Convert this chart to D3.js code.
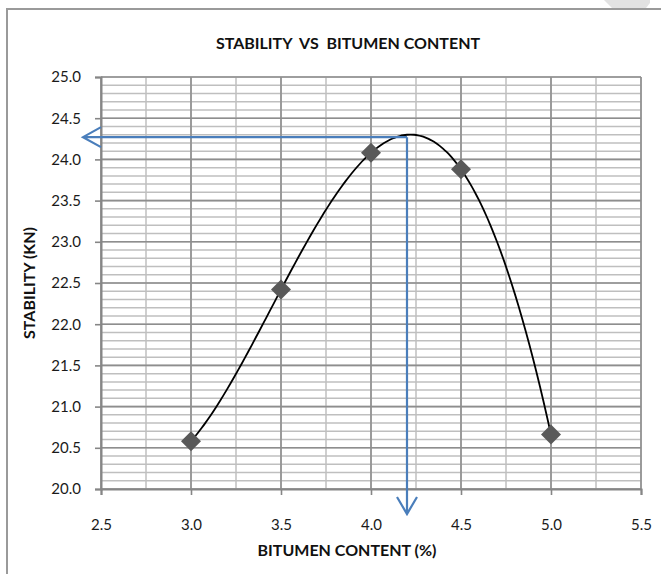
<!DOCTYPE html>
<html>
<head>
<meta charset="utf-8">
<script src="https://cdn.jsdelivr.net/npm/d3@7"></script>
<style>
  body { margin: 0; background: #fff; }
  svg { display: block; font-family: Lato, "Open Sans", sans-serif; }
</style>
</head>
<body>
<script>
// data
var bitumen = [3.0, 3.5, 4.0, 4.5, 5.0];
var stability = [20.58, 22.42, 24.08, 23.88, 20.66];
var xTicks = [2.5, 3.0, 3.5, 4.0, 4.5, 5.0, 5.5];
var yTicks = [20.0, 20.5, 21.0, 21.5, 22.0, 22.5, 23.0, 23.5, 24.0, 24.5, 25.0];
var optimum = [4.2, 24.27]; // read-off point (bitumen %, stability)

var W = 661, H = 574;
var svg = d3.select("body").append("svg").attr("width", W).attr("height", H);

var x = d3.scaleLinear().domain([2.5, 5.5]).range([101, 641]);
var y = d3.scaleLinear().domain([20, 25]).range([489, 77]);

// page frame + bit of watermark in the corner
svg.append("path").attr("d", "M7,574 L7,9 L661,9").attr("fill", "none")
  .attr("stroke", "#9a9a9a").attr("stroke-width", 2);
svg.append("polygon").attr("points", "604,0 650,0 650,3 646,8 612,8").attr("fill", "#e2e2e2");

// grid
var minorY = d3.range(200, 251).map(function(v) { return v / 10; });
var minorX = d3.range(10, 23).map(function(v) { return v / 4; });

svg.append("g").selectAll("line").data(minorY).enter().append("line")
  .attr("x1", x(2.5)).attr("x2", x(5.5))
  .attr("y1", y).attr("y2", y)
  .attr("stroke", "#bfbfbf").attr("stroke-width", 1.5);
svg.append("g").selectAll("line").data(minorX).enter().append("line")
  .attr("x1", x).attr("x2", x)
  .attr("y1", y(20)).attr("y2", y(25))
  .attr("stroke", "#bfbfbf").attr("stroke-width", 1.5);
svg.append("g").selectAll("line").data(yTicks).enter().append("line")
  .attr("x1", x(2.5)).attr("x2", x(5.5))
  .attr("y1", y).attr("y2", y)
  .attr("stroke", "#8e8e8e").attr("stroke-width", 1.6);
svg.append("g").selectAll("line").data(xTicks).enter().append("line")
  .attr("x1", x).attr("x2", x)
  .attr("y1", y(20)).attr("y2", y(25))
  .attr("stroke", "#8e8e8e").attr("stroke-width", 1.6);

// axes
var yAxis = svg.append("g").attr("transform", "translate(" + x(2.5) + ",0)")
  .call(d3.axisLeft(y).tickValues(yTicks).tickFormat(d3.format(".1f")).tickSize(6).tickPadding(14));
var xAxis = svg.append("g").attr("transform", "translate(0," + y(20) + ")")
  .call(d3.axisBottom(x).tickValues(xTicks).tickFormat(d3.format(".1f")).tickSize(6).tickPadding(24));
[xAxis, yAxis].forEach(function(ax) {
  ax.attr("font-size", 15).attr("font-family", "Lato, sans-serif");
  ax.select(".domain").attr("stroke", "#868686").attr("stroke-width", 2);
  ax.selectAll(".tick line").attr("stroke", "#868686").attr("stroke-width", 1.6);
  ax.selectAll("text").attr("fill", "#1a1a1a");
});

// polynomial (order 4) trendline through the points
function poly(t) {
  var s = 0;
  for (var i = 0; i < bitumen.length; i++) {
    var p = stability[i];
    for (var j = 0; j < bitumen.length; j++) {
      if (j !== i) p *= (t - bitumen[j]) / (bitumen[i] - bitumen[j]);
    }
    s += p;
  }
  return s;
}
var trend = d3.range(3.0, 5.0001, 0.02);
svg.append("path").datum(trend)
  .attr("d", d3.line().x(function(d) { return x(d); }).y(function(d) { return y(poly(d)); }).curve(d3.curveBasis))
  .attr("fill", "none").attr("stroke", "#000").attr("stroke-width", 1.8);

// markers
svg.append("g").selectAll("path").data(bitumen).enter().append("path")
  .attr("d", d3.symbol().type(d3.symbolSquare).size(200))
  .attr("transform", function(d, i) { return "translate(" + x(d) + "," + y(stability[i]) + ") rotate(45)"; })
  .attr("fill", "#595959");

// optimum arrows
var blue = "#4a7ebb";
var ox = x(optimum[0]), oy = y(optimum[1]);
var hx = x(2.5) - 18, vy = y(20) + 25;
svg.append("path")
  .attr("d", "M" + ox + "," + oy + " L" + hx + "," + oy + " M" + (hx + 18) + "," + (oy - 10) + " L" + hx + "," + oy + " L" + (hx + 18) + "," + (oy + 10))
  .attr("fill", "none").attr("stroke", blue).attr("stroke-width", 2.2);
svg.append("path")
  .attr("d", "M" + ox + "," + oy + " L" + ox + "," + vy + " M" + (ox - 10) + "," + (vy - 17) + " L" + ox + "," + vy + " L" + (ox + 10) + "," + (vy - 17))
  .attr("fill", "none").attr("stroke", blue).attr("stroke-width", 2.2);

// titles
svg.append("text").attr("x", 348).attr("y", 49).attr("text-anchor", "middle")
  .attr("font-weight", "bold").attr("font-size", 16).attr("fill", "#111")
  .attr("xml:space", "preserve")
  .text("STABILITY  VS  BITUMEN CONTENT");
svg.append("text").attr("x", 347).attr("y", 556).attr("text-anchor", "middle")
  .attr("font-weight", "bold").attr("font-size", 16).attr("fill", "#111")
  .text("BITUMEN CONTENT (%)");
svg.append("text").attr("transform", "translate(35," + 283 + ") rotate(-90)").attr("text-anchor", "middle")
  .attr("font-weight", "bold").attr("font-size", 16).attr("fill", "#111")
  .text("STABILITY (KN)");
</script>
</body>
</html>
